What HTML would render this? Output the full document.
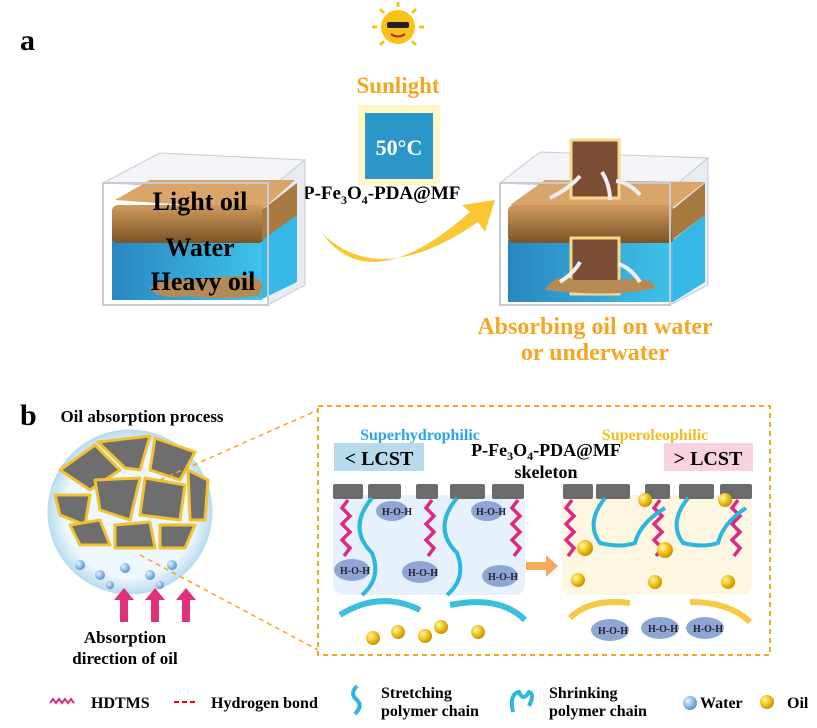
<!DOCTYPE html>
<html><head><style>
html,body{margin:0;padding:0;background:#fff}
svg{display:block}
text{font-family:"Liberation Serif",serif;font-weight:bold}
</style></head><body>
<svg width="817" height="728" viewBox="0 0 817 728" xmlns="http://www.w3.org/2000/svg">
<defs>
<linearGradient id="wat" x1="0" x2="1"><stop offset="0" stop-color="#2a86c0"/><stop offset="1" stop-color="#3ec3ea"/></linearGradient>
<linearGradient id="oil" x1="0" x2="0" y1="0" y2="1"><stop offset="0" stop-color="#d09a5e"/><stop offset="1" stop-color="#7a5426"/></linearGradient>
<radialGradient id="ball" cx="0.35" cy="0.35" r="0.7"><stop offset="0" stop-color="#fff6b0"/><stop offset="0.5" stop-color="#f2c51c"/><stop offset="1" stop-color="#c08f00"/></radialGradient>
<radialGradient id="wball" cx="0.35" cy="0.35" r="0.7"><stop offset="0" stop-color="#e6f3ff"/><stop offset="1" stop-color="#4d8fd0"/></radialGradient>
<radialGradient id="circ" cx="0.5" cy="0.5" r="0.5"><stop offset="0.8" stop-color="#eef7fd"/><stop offset="1" stop-color="#b9dcef"/></radialGradient>
</defs>

<text x="20" y="50" font-size="30">a</text>
<!-- sun -->
<circle cx="398" cy="27" r="17" fill="#f9c21a"/>
<g stroke="#f9c21a" stroke-width="3"><line x1="398" y1="2" x2="398" y2="7"/><line x1="372" y1="27" x2="377" y2="27"/><line x1="419" y1="27" x2="424" y2="27"/><line x1="380" y1="9" x2="384" y2="13"/><line x1="416" y1="9" x2="412" y2="13"/><line x1="380" y1="45" x2="384" y2="41"/><line x1="416" y1="45" x2="412" y2="41"/></g>
<rect x="387" y="22" width="22" height="6" rx="2" fill="#222"/>
<path d="M391,34 q7,5 14,0" fill="none" stroke="#a33" stroke-width="2"/>
<text x="398" y="93" font-size="23" fill="#f5a623" text-anchor="middle">Sunlight</text>
<!-- cube -->
<rect x="358" y="105" width="82" height="80" fill="#fff3b0" opacity="0.7"/>
<rect x="365" y="113" width="68" height="66" fill="#2b97c8"/>
<text x="399" y="155" font-size="22" fill="#fff" text-anchor="middle">50°C</text>
<text x="303" y="199" font-size="19">P-Fe<tspan font-size="12" dy="5">3</tspan><tspan dy="-5">O</tspan><tspan font-size="12" dy="5">4</tspan><tspan dy="-5">-PDA@MF</tspan></text>

<!-- left box -->
<g>
<polygon points="103,183 160,153 305,160 268,190" fill="#f2f4f7" stroke="#c5cad3"/>
<polygon points="268,190 305,160 305,285 268,305" fill="#e8ecf2" stroke="#c5cad3"/>
<polygon points="112,240 260,240 297,215 297,282 260,300 112,300" fill="#35b8e5"/>
<rect x="112" y="238" width="150" height="62" fill="url(#wat)"/>
<polygon points="115,200 150,180 295,180 262,210" fill="#d9a56a"/>
<rect x="112" y="205" width="152" height="38" rx="6" fill="url(#oil)"/>
<polygon points="262,210 297,183 297,215 262,240" fill="#a87a40"/>
<rect x="103" y="183" width="165" height="122" fill="none" stroke="#c5cad3" stroke-width="2"/>
<path d="M150,288 q10,-12 40,-8 q30,-4 60,-4 q20,6 8,20 q-40,4 -70,0 q-30,4 -38,-8z" fill="#b58a54"/>
<text x="200" y="210" font-size="26" text-anchor="middle">Light oil</text>
<text x="200" y="256" font-size="26" text-anchor="middle">Water</text>
<text x="203" y="290" font-size="26" text-anchor="middle">Heavy oil</text>
</g>
<!-- big arrow -->
<path d="M322,233 Q370,300 470,212 L462,205 L495,200 L485,232 L478,222 Q380,290 322,233z" fill="#f9c732"/>
<!-- right box -->
<g>
<polygon points="500,183 540,152 708,158 670,190" fill="#f2f4f7" stroke="#c5cad3"/>
<polygon points="670,190 708,158 708,285 670,305" fill="#e8ecf2" stroke="#c5cad3"/>
<rect x="508" y="240" width="165" height="62" fill="url(#wat)"/>
<polygon points="673,240 705,215 705,282 673,302" fill="#35b8e5"/>
<polygon points="510,205 545,180 705,182 672,208" fill="#d9a56a"/>
<rect x="508" y="205" width="166" height="38" rx="6" fill="url(#oil)"/>
<polygon points="672,210 705,183 705,215 672,240" fill="#a87a40"/>
<rect x="500" y="183" width="170" height="122" fill="none" stroke="#c5cad3" stroke-width="2"/>
<rect x="571" y="140" width="48" height="58" fill="#7b4d34" stroke="#f7d98a" stroke-width="3"/>
<rect x="571" y="238" width="48" height="56" fill="#7b4d34" stroke="#f7d98a" stroke-width="3"/>
<path d="M545,290 q10,-18 30,-10 l40,0 q40,-4 40,8 q-40,10 -110,2z" fill="#b58a54"/>
<g fill="none" stroke="#eee" stroke-width="4"><path d="M550,198 q20,-10 30,-22"/><path d="M610,200 q0,-15 -8,-28"/><path d="M640,195 q-10,-12 -24,-14"/><path d="M560,282 q15,-10 20,-20"/><path d="M640,282 q-10,-15 -22,-18"/></g>
</g>
<text x="595" y="334" font-size="24" fill="#f5a623" text-anchor="middle">Absorbing oil on water</text>
<text x="595" y="360" font-size="24" fill="#f5a623" text-anchor="middle">or underwater</text>

<!-- b -->
<text x="20" y="425" font-size="30">b</text>
<text x="142" y="422" font-size="17" text-anchor="middle">Oil absorption process</text>
<circle cx="130" cy="512" r="82" fill="url(#circ)" stroke="#b9dcef"/>
<g fill="#6e6e6e" stroke="#f1c232" stroke-width="3" stroke-linejoin="round">
<polygon points="60,470 95,445 120,470 90,490"/>
<polygon points="98,442 150,436 140,470 125,468"/>
<polygon points="155,438 195,452 180,480 150,470"/>
<polygon points="55,495 90,495 85,525 60,515"/>
<polygon points="95,480 140,478 130,520 100,510"/>
<polygon points="145,478 185,485 180,520 140,515"/>
<polygon points="188,470 208,480 205,520 190,520"/>
<polygon points="70,525 100,520 110,545 80,545"/>
<polygon points="115,525 150,522 155,548 115,548"/>
<polygon points="160,525 195,525 185,548 160,548"/>
</g>
<g fill="url(#wball)"><circle cx="80" cy="565" r="5"/><circle cx="100" cy="575" r="5"/><circle cx="125" cy="568" r="5"/><circle cx="150" cy="575" r="5"/><circle cx="172" cy="565" r="5"/><circle cx="110" cy="585" r="4"/><circle cx="160" cy="585" r="4"/></g>
<g fill="#e3307b"><path d="M120,622 h8 v-22 h6 l-10,-12 l-10,12 h6z"/><path d="M151,622 h8 v-22 h6 l-10,-12 l-10,12 h6z"/><path d="M182,622 h8 v-22 h6 l-10,-12 l-10,12 h6z"/></g>
<text x="125" y="643" font-size="17" text-anchor="middle">Absorption</text>
<text x="125" y="664" font-size="17" text-anchor="middle">direction of oil</text>
<g stroke="#f5a623" stroke-width="1.5" stroke-dasharray="5,4" fill="none">
<line x1="160" y1="480" x2="318" y2="410"/><line x1="140" y1="555" x2="318" y2="650"/>
<rect x="318" y="406" width="452" height="249" stroke-width="2"/>
</g>
<text x="420" y="440" font-size="16" fill="#2aa3e8" text-anchor="middle">Superhydrophilic</text>
<text x="655" y="440" font-size="16" fill="#f5bc1f" text-anchor="middle">Superoleophilic</text>
<rect x="334" y="443" width="90" height="28" fill="#b7dbec"/>
<text x="379" y="465" font-size="20" text-anchor="middle">&lt; LCST</text>
<rect x="664" y="443" width="89" height="28" fill="#f7d3dd"/>
<text x="708" y="465" font-size="20" text-anchor="middle">&gt; LCST</text>
<text x="546" y="456" font-size="18" text-anchor="middle">P-Fe<tspan font-size="12" dy="4">3</tspan><tspan dy="-4">O</tspan><tspan font-size="12" dy="4">4</tspan><tspan dy="-4">-PDA@MF</tspan></text>
<text x="546" y="478" font-size="18" text-anchor="middle">skeleton</text>
<rect x="333" y="495" width="192" height="100" rx="10" fill="#e7f1fb"/>
<rect x="562" y="495" width="190" height="100" rx="10" fill="#fdf6e0"/>
<g fill="#6b6b6b"><rect x="333" y="484" width="30" height="15" rx="2"/><rect x="368" y="484" width="33" height="15" rx="2"/><rect x="416" y="484" width="22" height="15" rx="2"/><rect x="450" y="484" width="35" height="15" rx="2"/><rect x="492" y="484" width="32" height="15" rx="2"/>
<rect x="563" y="484" width="30" height="15" rx="2"/><rect x="596" y="484" width="34" height="15" rx="2"/><rect x="645" y="484" width="25" height="15" rx="2"/><rect x="679" y="484" width="35" height="15" rx="2"/><rect x="720" y="484" width="32" height="15" rx="2"/></g>
<g fill="none" stroke="#e0277f" stroke-width="3.5">
<path d="M348,500 l-6,8 l8,8 l-8,8 l8,8 l-8,8 l8,8 l-6,8"/><path d="M432,500 l-6,8 l8,8 l-8,8 l8,8 l-8,8 l8,8 l-6,8"/><path d="M518,500 l-6,8 l8,8 l-8,8 l8,8 l-8,8 l8,8 l-6,8"/>
<path d="M572,500 l-6,8 l8,8 l-8,8 l8,8 l-8,8 l8,8 l-6,8"/><path d="M660,500 l-6,8 l8,8 l-8,8 l8,8 l-8,8 l8,8 l-6,8"/><path d="M738,500 l-6,8 l8,8 l-8,8 l8,8 l-8,8 l8,8 l-6,8"/>
</g>
<g fill="none" stroke="#2cb6e0" stroke-width="4"><path d="M372,498 q-25,30 0,55 q10,25 -10,42"/><path d="M457,498 q-25,30 0,55 q10,25 -10,42"/>
<path d="M605,498 q-20,25 -5,45 q20,5 35,0 q5,-20 30,-35"/><path d="M688,498 q-20,25 -5,45 q20,5 35,0 q5,-20 28,-35"/></g>
<g fill="#8fa6d4"><ellipse cx="392" cy="511" rx="16" ry="10"/><ellipse cx="352" cy="570" rx="18" ry="11"/><ellipse cx="420" cy="572" rx="18" ry="11"/><ellipse cx="487" cy="511" rx="16" ry="10"/><ellipse cx="500" cy="576" rx="18" ry="11"/>
<ellipse cx="610" cy="630" rx="19" ry="11"/><ellipse cx="660" cy="628" rx="19" ry="11"/><ellipse cx="705" cy="628" rx="19" ry="11"/></g>
<g font-size="10" fill="#223">
<text x="382" y="515" font-weight="normal">H-O-H</text><text x="340" y="574" font-weight="normal">H-O-H</text><text x="408" y="576" font-weight="normal">H-O-H</text><text x="476" y="515" font-weight="normal">H-O-H</text><text x="488" y="580" font-weight="normal">H-O-H</text>
<text x="598" y="634" font-weight="normal">H-O-H</text><text x="648" y="632" font-weight="normal">H-O-H</text><text x="693" y="632" font-weight="normal">H-O-H</text></g>
<path d="M526,562 h20 v-7 l12,11 l-12,11 v-7 h-20z" fill="#f5a95a"/>
<g fill="none" stroke="#39c0dd" stroke-width="6"><path d="M340,615 q40,-25 80,-5"/><path d="M450,605 q50,-10 75,15"/></g>
<g fill="none" stroke="#f7c844" stroke-width="6"><path d="M570,618 q20,-20 60,-15"/><path d="M690,602 q40,0 60,20"/></g>
<g fill="url(#ball)"><circle cx="373" cy="638" r="7"/><circle cx="398" cy="632" r="7"/><circle cx="425" cy="636" r="7"/><circle cx="441" cy="627" r="7"/><circle cx="478" cy="632" r="7"/>
<circle cx="645" cy="500" r="7"/><circle cx="725" cy="500" r="7"/><circle cx="585" cy="548" r="8"/><circle cx="665" cy="550" r="8"/><circle cx="578" cy="580" r="7"/><circle cx="655" cy="582" r="7"/><circle cx="728" cy="582" r="7"/>
<circle cx="767" cy="702" r="7"/></g>
<!-- legend -->
<path d="M50,703 l3,-4 l3,4 l3,-4 l3,4 l3,-4 l3,4 l3,-4 l3,4" fill="none" stroke="#e0277f" stroke-width="2"/>
<text x="91" y="708" font-size="16">HDTMS</text>
<line x1="174" y1="702" x2="198" y2="702" stroke="#f00" stroke-width="2" stroke-dasharray="5,3"/>
<text x="211" y="708" font-size="16">Hydrogen bond</text>
<path d="M357,686 q-8,8 0,14 q6,6 -2,14" fill="none" stroke="#2cb6e0" stroke-width="4"/>
<text x="381" y="698" font-size="16" font-weight="normal">Stretching</text>
<text x="381" y="716" font-size="16" font-weight="normal">polymer chain</text>
<path d="M513,712 q-4,-18 6,-20 q4,10 10,0 q6,2 0,14" fill="none" stroke="#2cb6e0" stroke-width="4"/>
<text x="549" y="698" font-size="16" font-weight="normal">Shrinking</text>
<text x="549" y="716" font-size="16" font-weight="normal">polymer chain</text>
<circle cx="690" cy="703" r="7" fill="url(#wball)"/>
<text x="700" y="708" font-size="16">Water</text>
<text x="787" y="708" font-size="16">Oil</text>
</svg>
</body></html>
